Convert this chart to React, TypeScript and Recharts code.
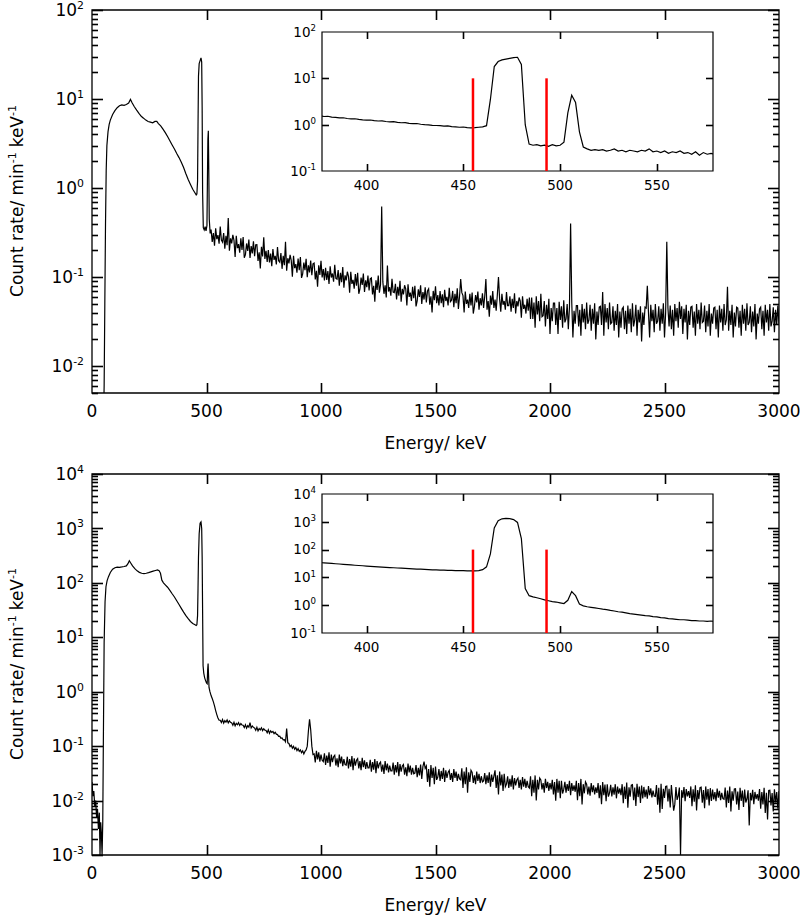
import { LineChart, Line, XAxis, YAxis, ReferenceArea, ReferenceLine } from 'recharts';

const FONT = '"DejaVu Sans", Verdana, sans-serif';

// ---- top spectrum ----
// detailed part, up to the 511 keV region
const topLowE = [
  0, 30, 45, 50, 53, 56, 59, 62, 65, 70,
  75, 80, 90, 100, 110, 120, 130, 140, 150, 160,
  168, 175, 185, 195, 205, 215, 225, 235, 245, 255,
  265, 275, 283, 290, 300, 310, 320, 330, 340, 350,
  360, 370, 380, 390, 400, 410, 420, 430, 440, 450,
  455, 458, 461, 463, 465, 468, 472, 476, 479, 481,
  483, 486, 490, 494, 498, 502, 504, 506, 508, 510,
  512, 516,
];
const topLowV = [
  0.001, 0.001, 0.001, 0.002, 0.006, 0.05, 0.4, 1.6, 3.0, 4.3,
  5.2, 5.8, 6.7, 7.4, 8.0, 8.4, 8.6, 8.5, 8.7, 9.0,
  9.9, 9.1, 8.2, 7.5, 6.9, 6.4, 6.1, 5.8, 5.6, 5.5,
  5.4, 5.6, 5.6, 5.3, 5.0, 4.6, 4.2, 3.8, 3.4, 3.05,
  2.75, 2.45, 2.2, 1.95, 1.7, 1.45, 1.25, 1.1, 0.97, 0.88,
  0.84, 0.86, 1.2, 5, 18, 25, 27, 29, 26, 8,
  0.9, 0.36, 0.34, 0.37, 0.33, 0.38, 1.2, 3.5, 4.4, 1.6,
  0.45, 0.31,
];
// 520 .. 3000 keV, 5 keV channels (one row = 50 keV)
const topTailStart = 520;
const topTailV = [
  0.342, 0.249, 0.313, 0.226, 0.354, 0.267, 0.296, 0.238, 0.371, 0.261,
  0.247, 0.312, 0.208, 0.291, 0.229, 0.46, 0.198, 0.273, 0.239, 0.299,
  0.259, 0.169, 0.291, 0.212, 0.235, 0.188, 0.273, 0.202, 0.282, 0.165,
  0.179, 0.239, 0.197, 0.265, 0.164, 0.223, 0.185, 0.252, 0.172, 0.231,
  0.232, 0.152, 0.19, 0.125, 0.219, 0.171, 0.28, 0.16, 0.198, 0.148,
  0.201, 0.146, 0.184, 0.133, 0.207, 0.156, 0.173, 0.139, 0.218, 0.153,
  0.147, 0.186, 0.124, 0.174, 0.136, 0.25, 0.118, 0.163, 0.143, 0.178,
  0.154, 0.101, 0.174, 0.126, 0.14, 0.112, 0.162, 0.12, 0.168, 0.098,
  0.109, 0.146, 0.12, 0.161, 0.1, 0.136, 0.113, 0.154, 0.105, 0.141,
  0.144, 0.094, 0.118, 0.078, 0.136, 0.106, 0.153, 0.099, 0.123, 0.092,
  0.127, 0.093, 0.117, 0.084, 0.132, 0.099, 0.11, 0.089, 0.138, 0.097,
  0.095, 0.12, 0.08, 0.112, 0.088, 0.13, 0.076, 0.105, 0.092, 0.115,
  0.102, 0.067, 0.115, 0.084, 0.093, 0.074, 0.108, 0.08, 0.112, 0.065,
  0.074, 0.099, 0.082, 0.11, 0.068, 0.092, 0.077, 0.104, 0.071, 0.096,
  0.098, 0.064, 0.08, 0.053, 0.092, 0.072, 0.104, 0.067, 0.083, 0.62,
  0.089, 0.065, 0.081, 0.059, 0.135, 0.069, 0.077, 0.062, 0.096, 0.068,
  0.067, 0.084, 0.056, 0.078, 0.062, 0.091, 0.053, 0.074, 0.064, 0.081,
  0.074, 0.048, 0.083, 0.06, 0.067, 0.054, 0.078, 0.058, 0.08, 0.047,
  0.054, 0.073, 0.06, 0.081, 0.05, 0.068, 0.056, 0.077, 0.052, 0.07,
  0.074, 0.049, 0.061, 0.04, 0.07, 0.055, 0.079, 0.051, 0.063, 0.048,
  0.07, 0.051, 0.064, 0.046, 0.072, 0.054, 0.06, 0.048, 0.076, 0.053,
  0.055, 0.07, 0.046, 0.065, 0.051, 0.075, 0.044, 0.061, 0.095, 0.067,
  0.062, 0.04, 0.069, 0.05, 0.056, 0.045, 0.065, 0.048, 0.067, 0.039,
  0.047, 0.063, 0.052, 0.069, 0.043, 0.058, 0.048, 0.066, 0.045, 0.061,
  0.095, 0.043, 0.054, 0.036, 0.062, 0.049, 0.07, 0.045, 0.056, 0.042,
  0.063, 0.10, 0.057, 0.041, 0.065, 0.049, 0.054, 0.043, 0.068, 0.048,
  0.048, 0.061, 0.041, 0.057, 0.045, 0.066, 0.039, 0.054, 0.047, 0.059,
  0.054, 0.035, 0.061, 0.044, 0.049, 0.039, 0.057, 0.042, 0.059, 0.034,
  0.059, 0.034, 0.052, 0.027, 0.061, 0.038, 0.054, 0.032, 0.065, 0.036,
  0.037, 0.054, 0.028, 0.049, 0.034, 0.057, 0.023, 0.045, 0.032, 0.051,
  0.051, 0.029, 0.045, 0.023, 0.053, 0.033, 0.047, 0.027, 0.055, 0.031,
  0.034, 0.05, 0.026, 0.046, 0.40, 0.052, 0.021, 0.042, 0.03, 0.048,
  0.048, 0.028, 0.043, 0.022, 0.05, 0.031, 0.044, 0.026, 0.052, 0.03,
  0.033, 0.049, 0.025, 0.044, 0.03, 0.051, 0.02, 0.041, 0.029, 0.046,
  0.047, 0.029, 0.068, 0.022, 0.05, 0.031, 0.045, 0.026, 0.052, 0.03,
  0.031, 0.047, 0.025, 0.042, 0.029, 0.05, 0.021, 0.041, 0.027, 0.044,
  0.046, 0.026, 0.042, 0.023, 0.048, 0.03, 0.044, 0.024, 0.051, 0.028,
  0.033, 0.049, 0.022, 0.043, 0.031, 0.047, 0.019, 0.04, 0.029, 0.046,
  0.045, 0.08, 0.04, 0.021, 0.049, 0.032, 0.043, 0.024, 0.05, 0.03,
  0.032, 0.047, 0.025, 0.044, 0.03, 0.051, 0.021, 0.04, 0.25, 0.045,
  0.028, 0.048, 0.026, 0.043, 0.022, 0.05, 0.032, 0.045, 0.027, 0.053,
  0.034, 0.047, 0.023, 0.044, 0.031, 0.049, 0.02, 0.042, 0.029, 0.046,
  0.047, 0.027, 0.041, 0.022, 0.05, 0.03, 0.043, 0.026, 0.052, 0.031,
  0.032, 0.048, 0.024, 0.042, 0.028, 0.05, 0.022, 0.039, 0.03, 0.045,
  0.046, 0.026, 0.043, 0.021, 0.048, 0.031, 0.044, 0.025, 0.05, 0.029,
  0.033, 0.078, 0.025, 0.042, 0.029, 0.049, 0.021, 0.04, 0.028, 0.046,
  0.045, 0.027, 0.042, 0.022, 0.049, 0.03, 0.044, 0.025, 0.051, 0.029,
  0.031, 0.047, 0.024, 0.041, 0.028, 0.05, 0.02, 0.039, 0.03, 0.044,
  0.046, 0.026, 0.042, 0.022, 0.049, 0.031, 0.043, 0.025, 0.05, 0.028,
  0.032, 0.046, 0.024, 0.043, 0.029, 0.048, 0.03,
];

// ---- bottom spectrum ----
const botLowE = [
  0, 4, 8, 12, 16, 20, 24, 28, 32, 35,
  38, 41, 44, 47, 50, 53, 57, 61, 66, 72,
  80, 90, 100, 110, 120, 130, 140, 150, 157, 163,
  169, 177, 187, 197, 207, 217, 227, 237, 247, 257,
  267, 277, 286, 293, 299, 305, 312, 320, 330, 340,
  350, 360, 370, 380, 390, 400, 410, 420, 430, 440,
  450, 455, 458, 461, 463, 465, 468, 472, 476, 479,
  481, 483, 485, 488, 492, 496, 500, 503, 505, 507,
  509, 511, 515, 520, 525, 530, 535, 540, 545, 550,
  555,
];
const botLowV = [
  0.022, 0.012, 0.015, 0.008, 0.01, 0.005, 0.007, 0.003, 0.006, 0.001,
  0.004, 0.0025, 0.001, 0.004, 0.2, 8, 45, 85, 110, 130,
  155, 178, 190, 195, 193, 196, 200, 205, 225, 255,
  232, 205, 182, 166, 156, 150, 148, 150, 154, 159,
  164, 169, 173, 168, 150, 112, 100, 92, 83, 73,
  63, 55, 47, 40, 34, 29, 25, 22, 19.5, 18,
  17, 16.5, 17, 25, 80, 300, 800, 1250, 1320, 1000,
  300, 30, 3, 2.2, 1.8, 1.6, 1.45, 1.4, 2.5, 3.3,
  2.0, 1.2, 1.0, 0.85, 0.75, 0.65, 0.55, 0.45, 0.38, 0.33,
  0.3,
];
// 560 .. 3000 keV, 5 keV channels (one row = 50 keV)
const botTailStart = 560;
const botTailV = [
  0.299, 0.271, 0.308, 0.265, 0.294, 0.276, 0.302, 0.268, 0.291, 0.274,
  0.268, 0.242, 0.275, 0.237, 0.263, 0.247, 0.27, 0.24, 0.26, 0.245,
  0.242, 0.219, 0.248, 0.214, 0.237, 0.223, 0.27, 0.216, 0.235, 0.221,
  0.215, 0.195, 0.221, 0.191, 0.211, 0.199, 0.217, 0.193, 0.209, 0.197,
  0.194, 0.176, 0.2, 0.172, 0.191, 0.179, 0.186, 0.17, 0.18, 0.166,
  0.163, 0.152, 0.153, 0.14, 0.142, 0.13, 0.131, 0.12, 0.21, 0.115,
  0.112, 0.098, 0.104, 0.092, 0.099, 0.088, 0.094, 0.083, 0.09, 0.08,
  0.085, 0.076, 0.082, 0.072, 0.08, 0.085, 0.1, 0.19, 0.31, 0.2,
  0.1, 0.07, 0.072, 0.05, 0.082, 0.057, 0.077, 0.052, 0.07, 0.055,
  0.052, 0.074, 0.045, 0.067, 0.049, 0.077, 0.042, 0.07, 0.051, 0.064,
  0.068, 0.044, 0.06, 0.041, 0.07, 0.048, 0.064, 0.043, 0.058, 0.046,
  0.045, 0.064, 0.039, 0.058, 0.042, 0.066, 0.036, 0.06, 0.044, 0.055,
  0.059, 0.039, 0.053, 0.036, 0.061, 0.041, 0.055, 0.038, 0.051, 0.04,
  0.04, 0.056, 0.034, 0.051, 0.037, 0.058, 0.032, 0.053, 0.039, 0.048,
  0.051, 0.034, 0.046, 0.031, 0.053, 0.036, 0.048, 0.033, 0.044, 0.035,
  0.035, 0.05, 0.03, 0.045, 0.033, 0.051, 0.028, 0.047, 0.034, 0.043,
  0.046, 0.03, 0.041, 0.028, 0.048, 0.033, 0.044, 0.03, 0.04, 0.031,
  0.032, 0.045, 0.027, 0.04, 0.029, 0.046, 0.025, 0.042, 0.052, 0.039,
  0.043, 0.022, 0.038, 0.018, 0.045, 0.026, 0.04, 0.02, 0.042, 0.024,
  0.027, 0.038, 0.023, 0.035, 0.025, 0.04, 0.022, 0.036, 0.026, 0.033,
  0.036, 0.024, 0.032, 0.022, 0.038, 0.026, 0.034, 0.023, 0.031, 0.025,
  0.024, 0.039, 0.017, 0.034, 0.02, 0.041, 0.014, 0.033, 0.022, 0.036,
  0.033, 0.021, 0.029, 0.02, 0.034, 0.023, 0.031, 0.021, 0.028, 0.022,
  0.023, 0.032, 0.02, 0.029, 0.021, 0.033, 0.018, 0.03, 0.022, 0.028,
  0.036, 0.017, 0.029, 0.013, 0.034, 0.019, 0.03, 0.015, 0.031, 0.018,
  0.02, 0.028, 0.017, 0.025, 0.018, 0.029, 0.016, 0.026, 0.019, 0.024,
  0.026, 0.017, 0.024, 0.016, 0.027, 0.018, 0.025, 0.017, 0.023, 0.018,
  0.017, 0.028, 0.012, 0.024, 0.014, 0.029, 0.01, 0.024, 0.016, 0.026,
  0.024, 0.016, 0.021, 0.014, 0.025, 0.017, 0.022, 0.015, 0.021, 0.016,
  0.024, 0.013, 0.022, 0.0099, 0.025, 0.014, 0.023, 0.011, 0.023, 0.0135,
  0.016, 0.022, 0.014, 0.02, 0.015, 0.023, 0.0126, 0.021, 0.015, 0.019,
  0.0145, 0.023, 0.0102, 0.021, 0.012, 0.025, 0.0085, 0.02, 0.0136, 0.022,
  0.02, 0.013, 0.018, 0.0123, 0.021, 0.0143, 0.019, 0.013, 0.0175, 0.0138,
  0.021, 0.011, 0.019, 0.0086, 0.022, 0.0126, 0.0196, 0.0097, 0.02, 0.0118,
  0.0137, 0.0195, 0.0119, 0.0175, 0.0128, 0.02, 0.011, 0.018, 0.0134, 0.0167,
  0.0126, 0.02, 0.0089, 0.018, 0.0107, 0.0215, 0.0074, 0.0175, 0.0118, 0.0192,
  0.0196, 0.0102, 0.0174, 0.008, 0.0203, 0.0116, 0.0181, 0.009, 0.0189, 0.0109,
  0.0178, 0.0116, 0.0159, 0.0108, 0.0185, 0.0125, 0.0168, 0.0114, 0.0153, 0.0121,
  0.0119, 0.0193, 0.0084, 0.0171, 0.006, 0.0203, 0.007, 0.0165, 0.0112, 0.0182,
  0.0185, 0.0096, 0.0164, 0.0075, 0.0192, 0.011, 0.0065, 0.0085, 0.0178, 0.0103,
  0.0122, 0.0173, 0.001, 0.0155, 0.0113, 0.0178, 0.0097, 0.0162, 0.0119, 0.0149,
  0.0112, 0.0182, 0.0079, 0.0161, 0.0095, 0.0191, 0.0066, 0.0156, 0.0106, 0.0172,
  0.0176, 0.0091, 0.0156, 0.0072, 0.0182, 0.0104, 0.0163, 0.0081, 0.0169, 0.0098,
  0.016, 0.0105, 0.0143, 0.0097, 0.0166, 0.0113, 0.0151, 0.0102, 0.0138, 0.0109,
  0.0106, 0.0173, 0.0075, 0.0153, 0.009, 0.0181, 0.0063, 0.0148, 0.01, 0.0163,
  0.0165, 0.0085, 0.0146, 0.0067, 0.0171, 0.0098, 0.0153, 0.0076, 0.0159, 0.0092,
  0.0108, 0.0154, 0.0035, 0.0138, 0.0101, 0.0158, 0.0086, 0.0144, 0.0106, 0.0132,
  0.01, 0.0163, 0.0071, 0.0144, 0.0085, 0.0171, 0.0059, 0.0139, 0.0045, 0.0153,
  0.0155, 0.0081, 0.0138, 0.0063, 0.0161, 0.0092, 0.0144, 0.0071, 0.015,
];

// ---- insets, 376 .. 580 keV in 2 keV channels ----
const insetStart = 376;
const insetTopV = [
  1.55, 1.50, 1.52, 1.46, 1.44, 1.40, 1.41, 1.36, 1.33, 1.34,
  1.30, 1.27, 1.25, 1.26, 1.22, 1.20, 1.21, 1.17, 1.15, 1.16,
  1.12, 1.10, 1.11, 1.07, 1.05, 1.06, 1.02, 1.0, 0.99, 0.97,
  0.96, 0.95, 0.93, 0.94, 0.91, 0.90, 0.88, 0.89, 0.86, 0.85,
  0.86, 0.88, 0.90, 0.95, 3.5, 18, 23, 25, 26, 27,
  28, 28.5, 20, 1.0, 0.38, 0.36, 0.37, 0.35, 0.36, 0.34,
  0.37, 0.35, 0.36, 0.42, 1.8, 4.3, 3.0, 0.7, 0.33, 0.30,
  0.28, 0.29, 0.28, 0.29, 0.27, 0.28, 0.30, 0.27, 0.28, 0.26,
  0.28, 0.27, 0.26, 0.28, 0.27, 0.30, 0.26, 0.27, 0.25, 0.27,
  0.24, 0.26, 0.25, 0.27, 0.24, 0.25, 0.23, 0.26, 0.22, 0.25,
  0.23, 0.24, 0.23,
];
const insetBotV = [
  34, 33.2, 32.5, 31.8, 31, 30.3, 29.5, 28.8, 28, 27.4,
  26.8, 26.2, 25.6, 25.0, 24.5, 24.0, 23.5, 23.0, 22.6, 22.2,
  21.8, 21.4, 21, 20.6, 20.3, 20.0, 19.7, 19.4, 19.1, 18.8,
  18.6, 18.4, 18.2, 18.0, 17.8, 17.6, 17.5, 17.4, 17.3, 17.3,
  17.3, 17.5, 19, 24, 70, 600, 1100, 1280, 1330, 1300,
  1200, 950, 250, 4, 2.2, 2.0, 1.85, 1.7, 1.55, 1.45,
  1.35, 1.3, 1.22, 1.15, 1.5, 3.1, 2.2, 1.1, 0.95, 0.88,
  0.84, 0.8, 0.76, 0.72, 0.69, 0.65, 0.62, 0.58, 0.56, 0.53,
  0.5, 0.48, 0.46, 0.44, 0.42, 0.41, 0.39, 0.38, 0.36, 0.35,
  0.33, 0.32, 0.31, 0.30, 0.30, 0.29, 0.28, 0.28, 0.27, 0.27,
  0.26, 0.27, 0.26,
];

// window markers drawn in the insets
const windowEdges = [455, 493];
const mainXTicks = [0, 500, 1000, 1500, 2000, 2500, 3000];
const insetXTicks = [400, 450, 500, 550];
const topExps = [-3, -2, -1, 0, 1, 2];
const botExps = [-3, -2, -1, 0, 1, 2, 3, 4];
const insetTopExps = [-1, 0, 1, 2];
const insetBotExps = [-1, 0, 1, 2, 3, 4];

type Pt = { e: number; v: number };

function build(lowE: number[], lowV: number[], start: number, step: number, tail: number[]): Pt[] {
  const pts = lowE.map((e, i) => ({ e, v: lowV[i] }));
  tail.forEach((v, i) => pts.push({ e: start + i * step, v }));
  return pts;
}

function logTicks(exps: number[], lo: number, hi: number, minors: boolean) {
  const out: number[] = [];
  exps.forEach((n) => {
    const d = Number(`1e${n}`);
    out.push(d);
    if (minors) for (let m = 2; m <= 9; m++) out.push(m * d);
  });
  return out.filter((t) => t >= lo * 0.999 && t <= hi * 1.001);
}

const isDecade = (v: number) => Math.abs(Math.log10(v) - Math.round(Math.log10(v))) < 1e-6;

// plot-area boxes (page pixels) shared by the charts and the tick overlay
const boxes = {
  top: { left: 92, top: 10, w: 687, h: 383 },
  bot: { left: 92, top: 474, w: 687, h: 381 },
  insetTop: { left: 322, top: 32, w: 391, h: 139 },
  insetBot: { left: 322, top: 494, w: 391, h: 139 },
};

function YTick(props: any) {
  const { payload, fs, gap } = props;
  const x = Number(props.x);
  const y = Number(props.y);
  const v = Number(payload.value);
  if (!isDecade(v)) return <g />;
  const exp = Math.round(Math.log10(v));
  return (
    <text x={x - gap} y={y + fs * 0.36} textAnchor="end" fontSize={fs} fontFamily={FONT} fill="#000">
      10
      <tspan dy={-fs * 0.42} fontSize={fs * 0.64}>
        {exp}
      </tspan>
    </text>
  );
}

function XTick(props: any) {
  const { payload, fs, dy } = props;
  return (
    <text x={Number(props.x)} y={Number(props.y) + dy} textAnchor="middle" fontSize={fs} fontFamily={FONT} fill="#000">
      {payload.value}
    </text>
  );
}

function MainPanel({ data, yDomain, exps, top, height, mt, mb }: any) {
  const yTicks = logTicks(exps, yDomain[0], yDomain[1], true);
  return (
    <div style={{ position: 'absolute', left: 0, top, width: 800, height }}>
      <LineChart width={800} height={height} data={data} margin={{ top: mt, right: 21, bottom: mb, left: 12 }}>
        <XAxis
          dataKey="e"
          type="number"
          domain={[0, 3000]}
          allowDataOverflow
          ticks={mainXTicks}
          interval={0}
          tickSize={0}
          tickMargin={0}
          axisLine={false}
          tickLine={false}
          height={55}
          tick={<XTick fs={17} dy={24} />}
        />
        <YAxis
          type="number"
          scale="log"
          domain={yDomain}
          allowDataOverflow
          ticks={yTicks}
          interval={0}
          tickSize={0}
          tickMargin={0}
          axisLine={false}
          tickLine={false}
          width={80}
          tick={<YTick fs={17} gap={8} />}
        />
        <Line type="linear" dataKey="v" stroke="#000" strokeWidth={1.2} dot={false} isAnimationActive={false} />
        <ReferenceArea x1={0} x2={3000} y1={yDomain[0]} y2={yDomain[1]} fill="none" stroke="#000" strokeWidth={1.3} />
      </LineChart>
    </div>
  );
}

function InsetPanel({ data, yDomain, exps, top, markTop }: any) {
  const yTicks = logTicks(exps, yDomain[0], yDomain[1], false);
  return (
    <div style={{ position: 'absolute', left: 282, top, width: 437, height: 175 }}>
      <LineChart width={437} height={175} data={data} margin={{ top: 10, right: 6, bottom: 0, left: 0 }}>
        <XAxis
          dataKey="e"
          type="number"
          domain={[377, 579]}
          allowDataOverflow
          ticks={insetXTicks}
          interval={0}
          tickSize={0}
          tickMargin={0}
          axisLine={false}
          tickLine={false}
          height={26}
          tick={<XTick fs={13.5} dy={19} />}
        />
        <YAxis
          type="number"
          scale="log"
          domain={yDomain}
          allowDataOverflow
          ticks={yTicks}
          interval={0}
          tickSize={0}
          tickMargin={0}
          axisLine={false}
          tickLine={false}
          width={40}
          tick={<YTick fs={13.5} gap={6} />}
        />
        <Line type="linear" dataKey="v" stroke="#000" strokeWidth={1.2} dot={false} isAnimationActive={false} />
        {windowEdges.map((e) => (
          <ReferenceLine
            key={e}
            segment={[{ x: e, y: yDomain[0] }, { x: e, y: markTop }]}
            stroke="#ff0000"
            strokeWidth={2.5}
            ifOverflow="visible"
          />
        ))}
        <ReferenceArea x1={377} x2={579} y1={yDomain[0]} y2={yDomain[1]} fill="none" stroke="#000" strokeWidth={1.2} />
      </LineChart>
    </div>
  );
}

// inward tick marks on all four sides of a plot box, mapped like the axes (linear x, log y)
function tickMarks(
  id: string, box: any, xDom: number[], yDom: number[], xTicks: number[], yTicks: number[],
  xLen: number, yMajor: number, yMinor: number,
) {
  const px = (e: number) => box.left + ((e - xDom[0]) / (xDom[1] - xDom[0])) * box.w;
  const lo = Math.log10(yDom[0]);
  const hi = Math.log10(yDom[1]);
  const py = (v: number) => box.top + ((hi - Math.log10(v)) / (hi - lo)) * box.h;
  const r = box.left + box.w;
  const b = box.top + box.h;
  const marks: any[] = [];
  yTicks.forEach((t) => {
    const y = Math.round(py(t)) + 0.5;
    const len = isDecade(t) ? yMajor : yMinor;
    marks.push(<line key={`${id}l${t}`} x1={box.left} x2={box.left + len} y1={y} y2={y} />);
    marks.push(<line key={`${id}r${t}`} x1={r} x2={r - len} y1={y} y2={y} />);
  });
  xTicks.forEach((t) => {
    const x = Math.round(px(t)) + 0.5;
    marks.push(<line key={`${id}b${t}`} x1={x} x2={x} y1={b} y2={b - xLen} />);
    marks.push(<line key={`${id}t${t}`} x1={x} x2={x} y1={box.top} y2={box.top + xLen} />);
  });
  return (
    <g key={id} stroke="#000" strokeWidth={1.6}>
      {marks}
    </g>
  );
}

function Decor() {
  const yTitle = (cy: number) => (
    <text x={23} y={cy} transform={`rotate(-90 23 ${cy})`} textAnchor="middle" fontSize={17} fontFamily={FONT} fill="#000">
      Count rate/ min
      <tspan dy={-7} fontSize={11}>-1</tspan>
      <tspan dy={7} dx={5}>keV</tspan>
      <tspan dy={-7} fontSize={11}>-1</tspan>
    </text>
  );
  return (
    <svg width={800} height={916} style={{ position: 'absolute', left: 0, top: 0, pointerEvents: 'none', zIndex: 5 }}>
      {tickMarks('a', boxes.top, [0, 3000], [0.005, 100], mainXTicks.slice(1, -1), logTicks(topExps, 0.005, 100, true), 10, 11, 6)}
      {tickMarks('b', boxes.bot, [0, 3000], [0.001, 10000], mainXTicks.slice(1, -1), logTicks(botExps, 0.001, 10000, true), 10, 11, 6)}
      {tickMarks('c', boxes.insetTop, [377, 579], [0.1, 100], insetXTicks, logTicks(insetTopExps, 0.1, 100, false).slice(1, -1), 7, 7, 4)}
      {tickMarks('d', boxes.insetBot, [377, 579], [0.1, 10000], insetXTicks, logTicks(insetBotExps, 0.1, 10000, false).slice(1, -1), 7, 7, 4)}
      {yTitle(201)}
      {yTitle(664)}
      <text x={435.5} y={449} textAnchor="middle" fontSize={17} fontFamily={FONT} fill="#000">
        Energy/ keV
      </text>
      <text x={435.5} y={911} textAnchor="middle" fontSize={17} fontFamily={FONT} fill="#000">
        Energy/ keV
      </text>
    </svg>
  );
}

export default function App() {
  const topData = build(topLowE, topLowV, topTailStart, 5, topTailV);
  const botData = build(botLowE, botLowV, botTailStart, 5, botTailV);
  const insetTop = build([], [], insetStart, 2, insetTopV);
  const insetBot = build([], [], insetStart, 2, insetBotV);
  return (
    <div style={{ position: 'absolute', left: 0, top: 0, width: 800, height: 916, background: '#fff' }}>
      <MainPanel data={topData} yDomain={[0.005, 100]} exps={topExps} top={0} height={460} mt={10} mb={12} />
      <MainPanel data={botData} yDomain={[0.001, 10000]} exps={botExps} top={460} height={456} mt={14} mb={6} />
      <InsetPanel data={insetTop} yDomain={[0.1, 100]} exps={insetTopExps} top={22} markTop={10} />
      <InsetPanel data={insetBot} yDomain={[0.1, 10000]} exps={insetBotExps} top={484} markTop={100} />
      <Decor />
    </div>
  );
}
